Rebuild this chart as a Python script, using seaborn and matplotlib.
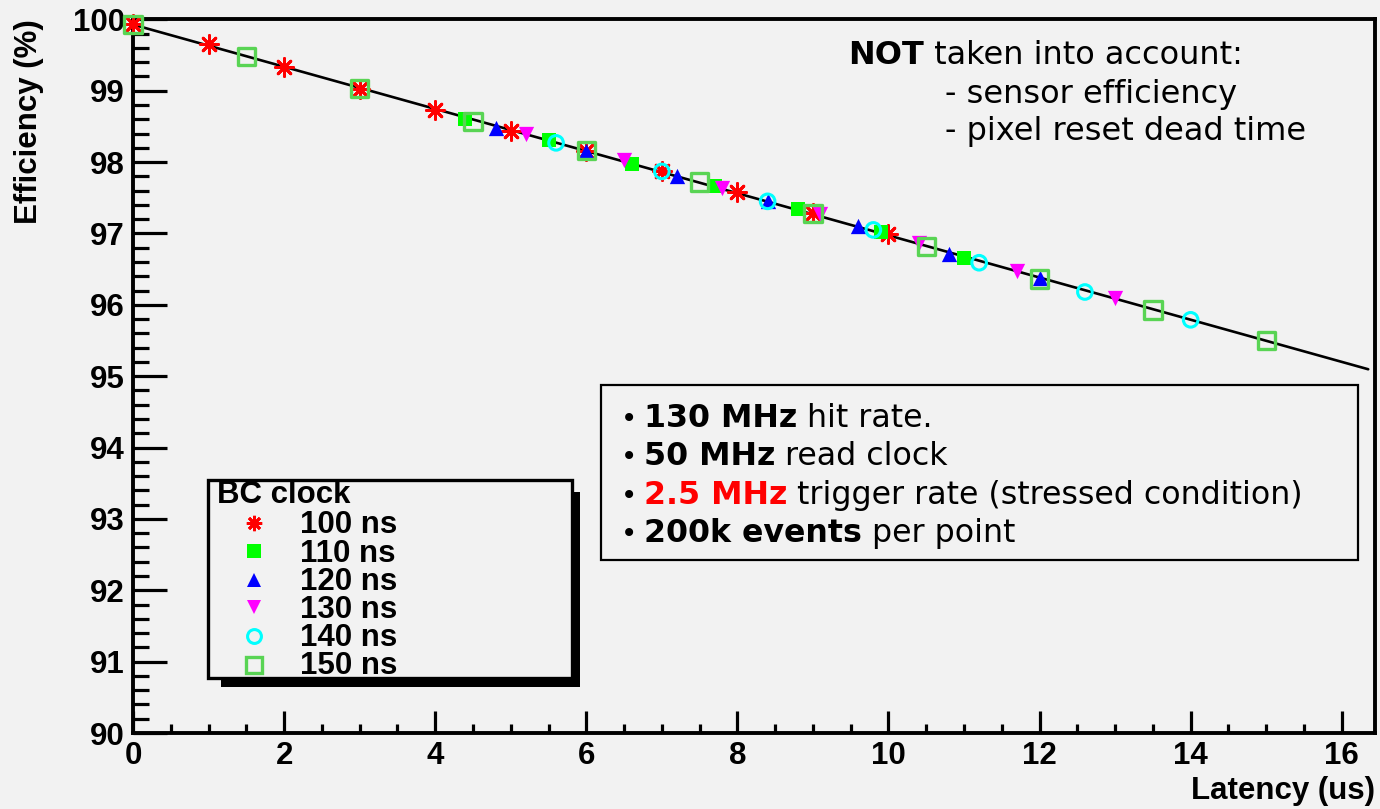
import numpy as np
import matplotlib
matplotlib.use("Agg")
import matplotlib.pyplot as plt
import seaborn as sns
from matplotlib.lines import Line2D
from matplotlib.patches import Rectangle
from matplotlib.ticker import MultipleLocator

# ---------------- data ----------------
clock_labels = ["100 ns", "110 ns", "120 ns", "130 ns", "140 ns", "150 ns"]

lat_100 = [0.0, 1.0, 2.0, 3.0, 4.0, 5.0, 6.0, 7.0, 8.0, 9.0, 10.0]
eff_100 = [99.93, 99.65, 99.33, 99.03, 98.73, 98.44, 98.16, 97.87, 97.58, 97.28, 96.99]

lat_110 = [4.4, 5.5, 6.6, 7.7, 8.8, 9.9, 11.0]
eff_110 = [98.60, 98.31, 97.98, 97.66, 97.34, 97.02, 96.65]

lat_120 = [4.8, 6.0, 7.2, 8.4, 9.6, 10.8, 12.0]
eff_120 = [98.48, 98.16, 97.80, 97.45, 97.10, 96.71, 96.37]

lat_130 = [5.2, 6.5, 7.8, 9.1, 10.4, 11.7, 13.0]
eff_130 = [98.39, 98.03, 97.64, 97.27, 96.87, 96.48, 96.09]

lat_140 = [5.6, 7.0, 8.4, 9.8, 11.2, 12.6, 14.0]
eff_140 = [98.27, 97.87, 97.45, 97.05, 96.59, 96.18, 95.79]

lat_150 = [0.0, 1.5, 3.0, 4.5, 6.0, 7.5, 9.0, 10.5, 12.0, 13.5, 15.0]
eff_150 = [99.93, 99.48, 99.03, 98.57, 98.16, 97.72, 97.28, 96.82, 96.36, 95.93, 95.50]

xtick_values = [0, 2, 4, 6, 8, 10, 12, 14, 16]
xtick_labels = ["0", "2", "4", "6", "8", "10", "12", "14", "16"]
ytick_values = [90, 91, 92, 93, 94, 95, 96, 97, 98, 99, 100]
ytick_labels = ["90", "91", "92", "93", "94", "95", "96", "97", "98", "99", "100"]

# ---------------- style ----------------
BG = "#f2f2f2"
sns.set_theme(style="ticks")
plt.rcParams["font.family"] = ["Liberation Sans", "DejaVu Sans"]
plt.rcParams["text.color"] = "black"
plt.rcParams["axes.labelcolor"] = "black"
plt.rcParams["xtick.color"] = "black"
plt.rcParams["ytick.color"] = "black"

W, H = 1380, 809
fig = plt.figure(figsize=(W / 100, H / 100), dpi=100, facecolor=BG)
ax = fig.add_axes([133 / W, 1 - 733 / H, (1375 - 133) / W, (733 - 19.4) / H])
ax.set_facecolor(BG)

# series styles: (marker, size pt, face, edge, lw)
styles = [
    ((8, 2, 0), 13, "#ff0000", "#ff0000", 2.0),
    ("s", 10.5, "#00ff00", "#00ff00", 0.0),
    ("^", 11, "#0000ff", "#0000ff", 0.0),
    ("v", 11, "#ff00ff", "#ff00ff", 0.0),
    ("o", 10.5, "none", "#00ffff", 2.2),
    ("s", 12.5, "none", "#59d454", 2.4),
]
series = [(lat_100, eff_100), (lat_110, eff_110), (lat_120, eff_120),
          (lat_130, eff_130), (lat_140, eff_140), (lat_150, eff_150)]

# fit line through all points
all_x = np.concatenate([np.asarray(s[0]) for s in series])
all_y = np.concatenate([np.asarray(s[1]) for s in series])
slope, inter = np.polyfit(all_x, all_y, 1)
xfit = np.array([0.0, 16.35])
sns.lineplot(x=xfit, y=slope * xfit + inter, ax=ax, color="black", lw=1.9, zorder=2)

for i, ((xs, ys), (mk, ms, fc, ec, lw)) in enumerate(zip(series, styles)):
    kw = dict(marker=mk, s=ms ** 2, linewidth=lw, zorder=3 + i, clip_on=False, ax=ax)
    if mk == (8, 2, 0):
        sns.scatterplot(x=xs, y=ys, color=ec, **kw)
    elif fc == "none":
        sns.scatterplot(x=xs, y=ys, facecolor="none", edgecolor=ec, **kw)
    else:
        sns.scatterplot(x=xs, y=ys, color=fc, edgecolor=ec, **kw)

ax.set_xlim(0, 16.44)
ax.set_ylim(90, 100)
ax.set_xticks(xtick_values)
ax.set_xticklabels(xtick_labels, fontweight="bold", fontsize=22.5, color="black")
ax.set_yticks(ytick_values)
ax.set_yticklabels(ytick_labels, fontweight="bold", fontsize=22.5, color="black")
ax.xaxis.set_minor_locator(MultipleLocator(0.5))
ax.yaxis.set_minor_locator(MultipleLocator(0.2))
ax.tick_params(axis="x", which="major", direction="in", length=15.5, width=2.3, pad=6, colors="black")
ax.tick_params(axis="x", which="minor", direction="in", length=6.7, width=2.3)
ax.tick_params(axis="y", which="major", direction="in", length=24.5, width=2.3, pad=6, colors="black")
ax.tick_params(axis="y", which="minor", direction="in", length=11.5, width=2.3)
ax.tick_params(top=False, right=False, which="both")
for sp in ax.spines.values():
    sp.set_linewidth(2.8)
    sp.set_color("black")
    sp.set_visible(True)

ax.set_xlabel("Latency (us)", fontsize=22.5, fontweight="bold", loc="right", color="black")
ax.xaxis.set_label_coords(1.0, -0.06)
ax.set_ylabel("Efficiency (%)", fontsize=22.5, fontweight="bold", loc="top", color="black")
ax.yaxis.set_label_coords(-0.072, 1.0)

# ---------------- annotations ----------------
renderer = fig.canvas.get_renderer()


def rich(px, py, segments, size, family="DejaVu Sans"):
    x = px / W
    for s, weight, color in segments:
        t = fig.text(x, 1 - py / H, s, fontsize=size, fontweight=weight, color=color,
                     family=family, va="baseline", ha="left", zorder=8)
        bb = t.get_window_extent(renderer)
        x = bb.x1 / W


# top-right note
rich(848, 64, [("NOT", "bold", "black"), (" taken into account:", "normal", "black")], 23)
rich(945, 103, [("- sensor efficiency", "normal", "black")], 23)
rich(945, 140, [("- pixel reset dead time", "normal", "black")], 23)

# info box
fig.add_artist(Rectangle((601 / W, 1 - 560 / H), (1358 - 601) / W, (560 - 385) / H,
                         transform=fig.transFigure, facecolor=BG, edgecolor="black", lw=1.6, zorder=5))
box_lines = [
    [("130 MHz", "bold", "black"), (" hit rate.", "normal", "black")],
    [("50 MHz", "bold", "black"), (" read clock", "normal", "black")],
    [("2.5 MHz", "bold", "#ff0000"), (" trigger rate (stressed condition)", "normal", "black")],
    [("200k events", "bold", "black"), (" per point", "normal", "black")],
]
for j, segs in enumerate(box_lines):
    yb = 427 + j * 38.3
    fig.text(621 / W, 1 - yb / H, "•", fontsize=20, family="DejaVu Sans", va="baseline",
             color="black", zorder=8)
    rich(644, yb, segs, 22.8)

# legend (ROOT style with shadow)
fig.add_artist(Rectangle((221 / W, 1 - 687 / H), (580 - 221) / W, (687 - 492) / H,
                         transform=fig.transFigure, facecolor="black", edgecolor="none", zorder=5))
fig.add_artist(Rectangle((208 / W, 1 - 678 / H), (572 - 208) / W, (678 - 480) / H,
                         transform=fig.transFigure, facecolor=BG, edgecolor="black", lw=2.4, zorder=6))
fig.text(217 / W, 1 - 503 / H, "BC clock", fontsize=22.5, fontweight="bold", va="baseline",
         ha="left", color="black", zorder=8)
row_marker_y = [523, 551, 580, 607, 636, 665]
row_text_y = [533, 562, 590, 618, 646, 674]
for lbl, (mk, ms, fc, ec, lw), my, ty in zip(clock_labels, styles, row_marker_y, row_text_y):
    if mk == (8, 2, 0):
        h = Line2D([254 / W], [1 - my / H], marker=mk, ms=ms * 0.85, color=ec, mew=lw, ls="none",
                   transform=fig.transFigure, zorder=8)
    else:
        h = Line2D([254 / W], [1 - my / H], marker=mk, ms=ms * 0.95, mfc=fc, mec=ec,
                   mew=lw if lw > 0 else 0.0, ls="none", transform=fig.transFigure, zorder=8)
    fig.add_artist(h)
    fig.text(300 / W, 1 - ty / H, lbl, fontsize=22.5, fontweight="bold", va="baseline",
             ha="left", color="black", zorder=8)

fig.savefig("out.png", dpi=100, facecolor=BG)
